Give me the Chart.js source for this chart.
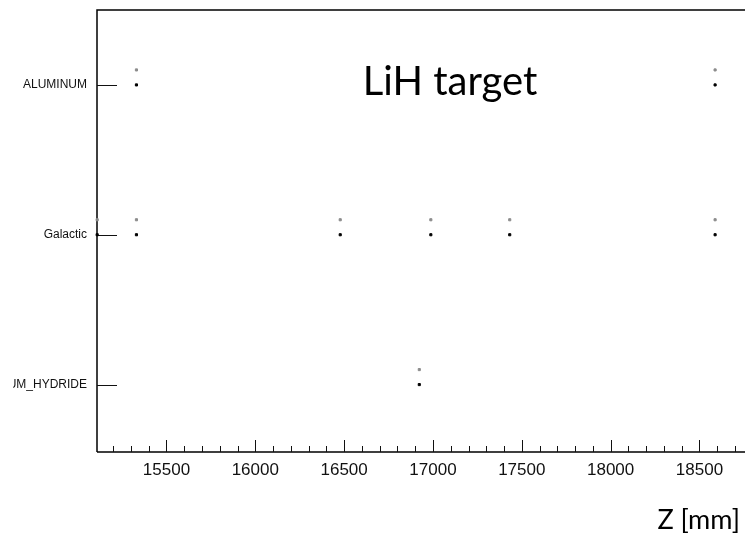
<!DOCTYPE html>
<html>
<head>
<meta charset="utf-8">
<script src="https://cdn.jsdelivr.net/npm/chart.js@4.4.1/dist/chart.umd.min.js"></script>
<style>
html, body { margin: 0; padding: 0; background: #ffffff; }
canvas { display: block; }
</style>
</head>
<body>
<canvas id="c" width="748" height="536"></canvas>
<script>
// ---- data ----
const MATERIALS = ['LITHIUM_HYDRIDE', 'Galactic', 'ALUMINUM'];   // y categories, bottom to top
const X_MAJOR_TICKS = [15500, 16000, 16500, 17000, 17500, 18000, 18500];
const X_RANGE = [15109, 18745];                                  // Z axis range [mm]
const ALUMINUM_Z = [15331, 18588];
const GALACTIC_Z = [15110, 15331, 16478, 16988, 17432, 18588];
const LITHIUM_HYDRIDE_Z = [16923];
const PRE_STEP_SHIFT = 0.1;   // grey (pre-step) markers sit slightly above the black (post-step) ones

const MATERIAL_Z = {
  'ALUMINUM': ALUMINUM_Z,
  'Galactic': GALACTIC_Z,
  'LITHIUM_HYDRIDE': LITHIUM_HYDRIDE_Z
};

function buildPoints(shift) {
  const pts = [];
  MATERIALS.forEach((m, i) => {
    MATERIAL_Z[m].forEach(z => pts.push({ x: z, y: i + shift }));
  });
  return pts;
}

const frameTicks = {
  id: 'frameTicks',
  beforeDatasetsDraw(chart) {
    const { ctx, chartArea: a, scales } = chart;
    ctx.save();
    ctx.strokeStyle = '#000';
    ctx.lineWidth = 1.5;
    ctx.beginPath();
    ctx.moveTo(a.left, a.bottom);
    ctx.lineTo(a.left, a.top);
    ctx.lineTo(a.right + 2, a.top);
    ctx.moveTo(a.left, a.bottom);
    ctx.lineTo(a.right + 2, a.bottom);
    ctx.stroke();
    // y ticks (inward)
    ctx.lineWidth = 1;
    ctx.strokeStyle = '#111';
    scales.y.ticks.forEach(t => {
      const y = Math.round(scales.y.getPixelForValue(t.value)) + 0.5;
      ctx.beginPath();
      ctx.moveTo(a.left, y);
      ctx.lineTo(a.left + 20, y);
      ctx.stroke();
    });
    // x ticks (inward, major/minor)
    scales.x.ticks.forEach(t => {
      const x = Math.round(scales.x.getPixelForValue(t.value)) + 0.5;
      const len = (t.value % 500 === 0) ? 12 : 6;
      ctx.beginPath();
      ctx.moveTo(x, a.bottom);
      ctx.lineTo(x, a.bottom - len);
      ctx.stroke();
    });
    ctx.restore();
  },
  afterDraw(chart) {
    const { ctx } = chart;
    ctx.save();
    // the reference figure is cropped on its left side
    ctx.fillStyle = '#fff';
    ctx.fillRect(0, 0, 13, chart.height);
    ctx.fillStyle = '#000';
    ctx.textBaseline = 'middle';
    ctx.textAlign = 'center';
    ctx.font = '40px Lato, "Open Sans", sans-serif';
    ctx.fillText('LiH target', 450, 82);
    ctx.textAlign = 'right';
    ctx.font = '27px Lato, "Open Sans", sans-serif';
    ctx.fillText('Z [mm]', 740, 520);
    ctx.restore();
  }
};

new Chart(document.getElementById('c'), {
  type: 'scatter',
  data: {
    datasets: [
      {
        label: 'pre-step',
        data: buildPoints(PRE_STEP_SHIFT),
        pointStyle: 'rect',
        pointRadius: 1.5,
        pointBorderWidth: 1,
        backgroundColor: '#8c8c8c',
        borderColor: '#8c8c8c',
        clip: false
      },
      {
        label: 'post-step',
        data: buildPoints(0),
        pointStyle: 'rect',
        pointRadius: 1.5,
        pointBorderWidth: 1,
        backgroundColor: '#000',
        borderColor: '#000',
        clip: false
      }
    ]
  },
  options: {
    responsive: false,
    devicePixelRatio: 1,
    animation: false,
    events: [],
    layout: { padding: { top: 10, left: 0, right: 0, bottom: 0 } },
    plugins: { legend: { display: false }, tooltip: { enabled: false }, title: { display: false } },
    scales: {
      x: {
        type: 'linear',
        position: 'bottom',
        min: X_RANGE[0],
        max: X_RANGE[1],
        grid: { display: false, drawTicks: false },
        border: { display: false },
        ticks: {
          stepSize: 100,
          includeBounds: false,
          autoSkip: false,
          maxRotation: 0,
          minRotation: 0,
          padding: 8,
          color: '#111',
          font: { family: '"Liberation Sans", Arial, sans-serif', size: 17 },
          callback: v => X_MAJOR_TICKS.includes(v) ? String(v) : ''
        },
        afterFit: s => { s.height = 84; s.paddingLeft = 0; s.paddingRight = 0; }
      },
      y: {
        type: 'linear',
        position: 'left',
        min: -0.45,
        max: 2.5,
        grid: { display: false, drawTicks: false },
        border: { display: false },
        afterBuildTicks: s => { s.ticks = MATERIALS.map((m, i) => ({ value: i })); },
        ticks: {
          padding: 10,
          color: '#111',
          font: { family: '"Liberation Sans", Arial, sans-serif', size: 12 },
          callback: v => MATERIALS[v]
        },
        afterFit: s => { s.width = 97; s.paddingTop = 0; s.paddingBottom = 0; }
      }
    }
  },
  plugins: [frameTicks]
});
</script>
</body>
</html>
